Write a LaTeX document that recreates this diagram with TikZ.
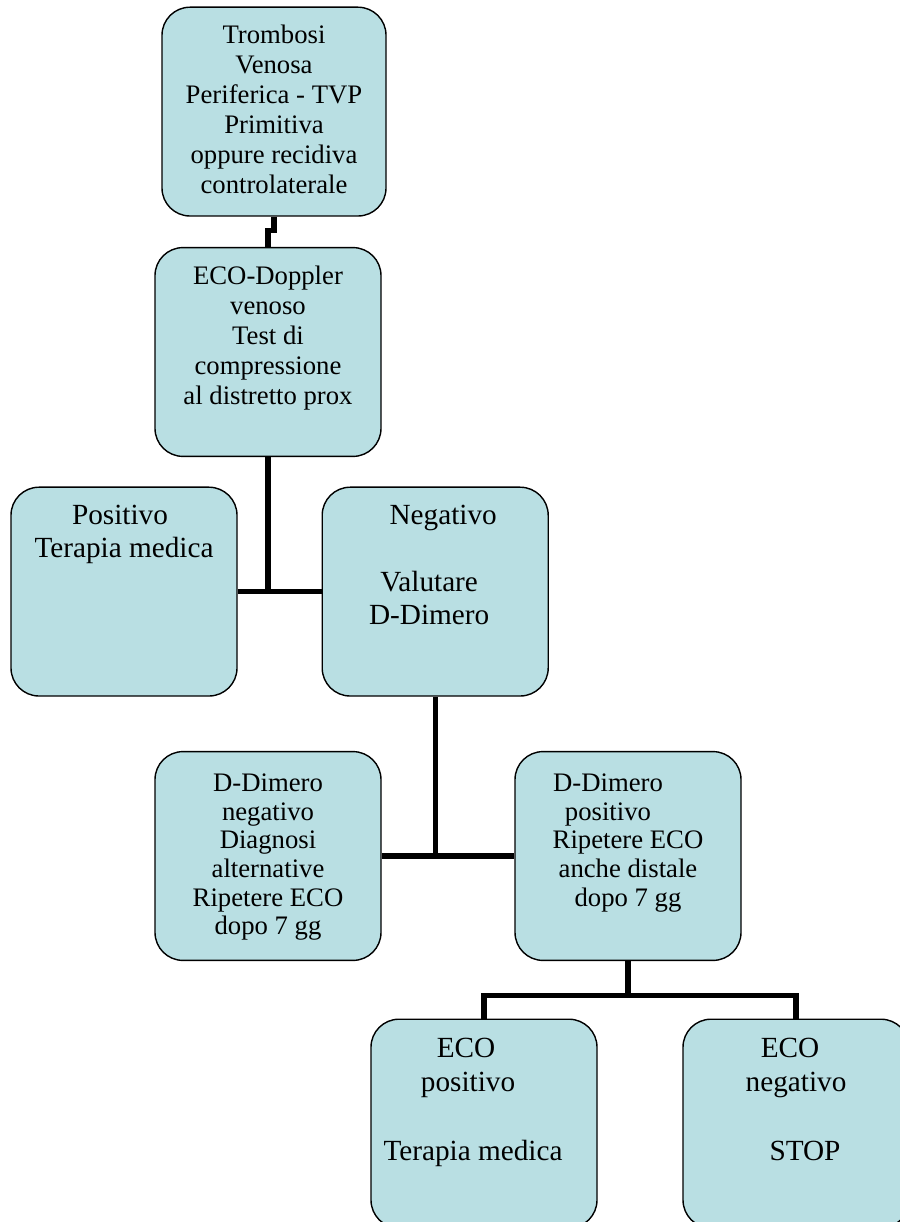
\documentclass[tikz,border=0pt]{standalone}
\usepackage{fontspec}
\setmainfont{Liberation Serif}
\usetikzlibrary{positioning}

\definecolor{boxblue}{RGB}{185,223,227}

\tikzset{
    box/.style={draw, line width=1pt, fill=boxblue, rounded corners=0.7cm,
        minimum width=5.65cm, minimum height=5.22cm, inner sep=0pt},
    txt/.style={align=center, inner sep=0pt, font=\fontsize{19}{21.3}\selectfont},
    ddtxt/.style={txt, font=\fontsize{19}{20.3}\selectfont},
    bigtxt/.style={txt, font=\fontsize{20.8}{23.8}\selectfont},
    ecotxt/.style={txt, font=\fontsize{20.8}{24.6}\selectfont},
    link/.style={line width=3.8pt}
}

\begin{document}
\begin{tikzpicture}
        \useasboundingbox ( 0.0, 0.0) rectangle (22.5,-30.55);

        \node[box, minimum width=5.6cm] (tvp) at ( 6.85, -2.79) {};
        \node[box] (eco)    at ( 6.70, -8.80) {};
        \node[box] (pos)    at ( 3.10,-14.79) {};
        \node[box] (neg)    at (10.88,-14.79) {};
        \node[box] (ddneg)  at ( 6.70,-21.40) {};
        \node[box] (ddpos)  at (15.70,-21.40) {};
        \node[box] (ecopos) at (12.10,-28.09) {};
        \node[box] (econeg) at (19.90,-28.09) {};

        \node[txt, below=0.45cm of tvp.north] (tvptext)
            {Trombosi\\Venosa\\Periferica - TVP\\Primitiva\\oppure recidiva\\controlaterale};
        \node[txt, below=0.475cm of eco.north] (ecotext)
            {ECO-Doppler\\venoso\\Test di\\compressione\\al distretto prox};
        \node[bigtxt, below=0.45cm of pos.north] (postext)
            {Positivo\hspace*{0.2cm}\null\\Terapia medica};
        \node[bigtxt, below=0.45cm of neg.north, xshift=-0.15cm] (negtext)
            {\hspace*{0.7cm}Negativo\\[\baselineskip]Valutare\\D-Dimero};
        \node[ddtxt, below=0.575cm of ddneg.north] (ddnegtext)
            {D-Dimero\\negativo\\Diagnosi\\alternative\\Ripetere ECO\\dopo 7 gg};
        \node[ddtxt, below=0.575cm of ddpos.north] (ddpostext)
            {D-Dimero\hspace*{1cm}\null\\positivo\hspace*{1cm}\null\\Ripetere ECO\\anche distale\\dopo 7 gg};
        \node[ecotxt, below=0.475cm of ecopos.north, xshift=-0.275cm] (ecopostext)
            {ECO\hspace*{0.35cm}\null\\positivo\hspace*{0.25cm}\null\\[\baselineskip]Terapia medica};
        \node[ecotxt, below=0.475cm of econeg.north] (econegtext)
            {ECO\hspace*{0.3cm}\null\\negativo\\[\baselineskip]\hspace*{0.45cm}STOP};

        \draw[link] (tvp.south) -- ++(0,-0.35) -| (eco.north);
        \draw[link] (eco.south) -- (eco.south |- pos.east);
        \draw[link] (pos.east) -- (neg.west);
        \draw[link] (neg.south) -- (neg.south |- ddneg.east);
        \draw[link] (ddneg.east) -- (ddpos.west);
        \draw[link] (ddpos.south) -- ++(0,-0.86) coordinate (fork);
        \draw[link] (ecopos.north) |- (fork) -| (econeg.north);
    \end{tikzpicture}
\end{document}
